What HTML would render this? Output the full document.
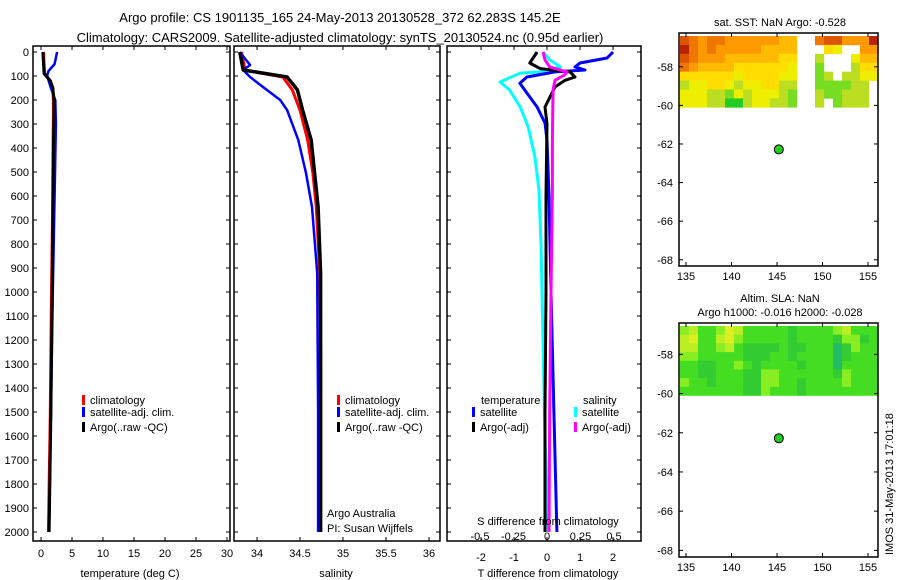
<!DOCTYPE html>
<html><head><meta charset="utf-8"><style>
body{margin:0;background:#fff;}
svg{display:block;font-family:"Liberation Sans",sans-serif;}
</style></head><body>
<svg id="c" width="900" height="580" xmlns="http://www.w3.org/2000/svg">
<text x="340" y="22" font-size="13" text-anchor="middle">Argo profile: CS 1901135_165 24-May-2013 20130528_372 62.283S 145.2E</text>
<text x="340" y="42" font-size="13" text-anchor="middle">Climatology: CARS2009. Satellite-adjusted climatology: synTS_20130524.nc (0.95d earlier)</text>
<g id="g"></g>
<text x="780" y="26" font-size="11" text-anchor="middle">sat. SST: NaN Argo: -0.528</text>
<text x="780" y="302" font-size="11" text-anchor="middle">Altim. SLA: NaN</text>
<text x="780" y="316" font-size="11" text-anchor="middle">Argo h1000: -0.016 h2000: -0.028</text>
<text transform="translate(893,555) rotate(-90)" font-size="11">IMOS 31-May-2013 17:01:18</text>
<text x="327" y="517" font-size="11">Argo Australia</text>
<text x="327" y="532" font-size="11">PI: Susan Wijffels</text>
<text x="130" y="577" font-size="11" text-anchor="middle">temperature (deg C)</text>
<text x="336" y="577" font-size="11" text-anchor="middle">salinity</text>
<text x="548" y="525" font-size="11" text-anchor="middle">S difference from climatology</text>
<text x="548" y="577" font-size="11" text-anchor="middle">T difference from climatology</text>
</svg>
<script>
// depth axis
const depthTicks=[0,100,200,300,400,500,600,700,800,900,1000,1100,1200,1300,1400,1500,1600,1700,1800,1900,2000];
// temperature panel
const tTicks=[0,5,10,15,20,25,30];
const tArgoDepth=[0,50,90,100,120,150,200,250,400,700,1000,1500,2000];
const tArgo=[0.3,0.4,0.5,0.8,1.5,1.9,2.1,2.1,2.0,1.9,1.8,1.6,1.3];
const tClim=[0.4,0.5,0.6,0.9,1.5,1.9,2.0,2.0,1.95,1.85,1.7,1.5,1.2];
const tSatDepth=[0,50,80,100,150,200,300,600,1000,1500,2000];
const tSat=[2.6,2.2,1.2,1.0,1.6,2.3,2.4,2.2,1.9,1.6,1.3];
// salinity panel
const sTicks=[34,34.5,35,35.5,36];
const sArgoDepth=[0,75,88,104,158,242,367,504,646,921,1200,1600,2000];
const sArgo=[33.8,33.84,34.07,34.35,34.47,34.53,34.63,34.67,34.71,34.74,34.74,34.74,34.74];
const sClim=[33.82,33.86,34.05,34.3,34.41,34.5,34.59,34.65,34.69,34.73,34.74,34.74,34.74];
const sSatDepth=[0,54,75,104,146,200,242,367,504,646,783,921,1500,2000];
const sSat=[33.8,33.92,33.84,33.92,34.07,34.27,34.35,34.48,34.57,34.64,34.67,34.70,34.71,34.71];
// difference panel
const dtTicks=[-2,-1,0,1,2];
const dsTicks=[-0.5,-0.25,0,0.25,0.5];
const dtSatDepth=[0,25,46,62,75,83,104,130,171,229,296,367,600,1000,1500,2000];
const dtSat=[2.0,1.82,1.0,0.85,1.15,0.24,-0.61,-0.82,-0.61,-0.30,-0.06,0,0.06,0.12,0.21,0.30];
const dtArgoDepth=[0,46,69,83,104,118,146,187,229,300,600,1000,1500,2000];
const dtArgo=[-0.30,-0.52,-0.21,0.70,0.85,0.55,0.24,0.09,-0.06,0,-0.03,-0.03,-0.06,-0.06];
const dsSatDepth=[0,33,62,83,88,125,158,229,312,437,575,800,1200,1600,2000];
const dsSat=[-0.03,0.02,0.10,-0.05,-0.20,-0.35,-0.28,-0.20,-0.14,-0.09,-0.06,-0.045,-0.03,-0.015,0.01];
const dsArgoDepth=[0,33,62,83,96,118,158,367,575,1000,1500,2000];
const dsArgo=[-0.03,-0.015,0.02,0.15,0.13,0.06,0.045,0.04,0.04,0.03,0.02,0.015];
// maps
const lonTicks=[135,140,145,150,155];
const latTicks=[-58,-60,-62,-64,-66,-68];
const sstRows=["8767766666655..7886669","9767666665555...43..66","8766655555544..2...355","7655554444443..1...244","4444443444433..12.2233","2334432334422..111122.","3332213233321..211222.","3332200233221..2.1222."];
const slaRows=["3422354222221222234222","4522453222221222213312","4422342111121122201322","3322222111221222201222","2211223212222122202222","2211222113322222213222","3221222113322122223222","2222222113222122222222"];
const floatLon=145.2, floatLat=-62.283;

const NS="http://www.w3.org/2000/svg";
const G=document.getElementById('g');
function mk(t,a,p){const e=document.createElementNS(NS,t);for(const k in a)e.setAttribute(k,a[k]);(p||G).appendChild(e);return e;}
const yD=d=>52+d*0.24;
const xT=v=>41+v*6.2;
const xS=v=>257+(v-34)*86;
const xDT=v=>547+v*33;
const xDS=v=>547+v*134;
const TOP=46,BOT=541;
function frame(x0,x1,name){
  const r=mk('rect',{x:x0,y:TOP,width:x1-x0,height:BOT-TOP,fill:'none',stroke:'#000','stroke-width':1.5});
  
  
  depthTicks.forEach(d=>{mk('line',{x1:x0,x2:x0+4,y1:yD(d),y2:yD(d),stroke:'#000'});mk('line',{x1:x1,x2:x1-4,y1:yD(d),y2:yD(d),stroke:'#000'});});
}
frame(33,230,'temperature-panel');
frame(234,440,'salinity-panel');
frame(447,641,'difference-panel');
depthTicks.forEach(d=>{const t=mk('text',{x:29,y:yD(d)+4,'font-size':11,'text-anchor':'end'});t.textContent=d;

});
function xticks(vals,fx,x0,x1,ly,lab){vals.forEach(v=>{const x=fx(v);mk('line',{x1:x,x2:x,y1:TOP,y2:TOP+4,stroke:'#000'});mk('line',{x1:x,x2:x,y1:BOT,y2:BOT-4,stroke:'#000'});
if(lab){const t=mk('text',{x:x,y:ly,'font-size':11,'text-anchor':'middle'});t.textContent=v;

}});}
xticks(tTicks,xT,33,230,557,true);
xticks(sTicks,xS,234,440,557,true);
xticks(dtTicks,xDT,447,641,561,true);
dsTicks.forEach(v=>{const t=mk('text',{x:xDS(v),y:540,'font-size':11,'text-anchor':'middle'});t.textContent=v;

});
function line(ds,vs,fx,col,w,name){const p=mk('polyline',{points:ds.map((d,i)=>fx(vs[i]).toFixed(1)+','+yD(d).toFixed(1)).join(' '),fill:'none',stroke:col,'stroke-width':w,'stroke-linejoin':'round'});

}
line(tArgoDepth,tClim,xT,'#f00',3,'temp-climatology-line');
line(tSatDepth,tSat,xT,'#00f',2.5,'temp-satellite-line');
line(tArgoDepth,tArgo,xT,'#000',3,'temp-argo-line');
line(sArgoDepth,sClim,xS,'#f00',3,'sal-climatology-line');
line(sSatDepth,sSat,xS,'#00f',2.5,'sal-satellite-line');
line(sArgoDepth,sArgo,xS,'#000',3.5,'sal-argo-line');
line(dsSatDepth,dsSat,xDS,'#0ff',3,'ds-satellite-line');
line(dtSatDepth,dtSat,xDT,'#00f',3,'dt-satellite-line');
line(dtArgoDepth,dtArgo,xDT,'#000',3,'dt-argo-line');
line(dsArgoDepth,dsArgo,xDS,'#f0f',3,'ds-argo-line');
function leg(x,y,col,txt,name){mk('rect',{x:x,y:y-9,width:3,height:10,fill:col});const t=mk('text',{x:x+8,y:y,'font-size':11});t.textContent=txt;

}
[[82,'temp'],[337,'sal']].forEach(([x,p])=>{leg(x,404,'#f00','climatology',p+'-legend-climatology');leg(x,416,'#00f','satellite-adj. clim.',p+'-legend-satellite');leg(x,431,'#000','Argo(..raw -QC)',p+'-legend-argo');});
{const t=mk('text',{x:481,y:404,'font-size':11});t.textContent='temperature';
const u=mk('text',{x:583,y:404,'font-size':11});u.textContent='salinity';}
leg(472,416,'#00f','satellite','diff-legend-t-satellite');leg(472,431,'#000','Argo(-adj)','diff-legend-t-argo');
leg(574,416,'#0ff','satellite','diff-legend-s-satellite');leg(574,431,'#f0f','Argo(-adj)','diff-legend-s-argo');

// maps
const sstCol=['#22cc22','#77dd22','#bbdd22','#eeee00','#ffdd00','#ffbb00','#ff9900','#ee7700','#dd5500','#bb2200'];
const slaCol=['#22bb66','#33cc33','#44dd22','#88ee22','#bbee22','#ddee22'];
function map(top,bot,latTop,ppd,rows,cols,name){
  const xL=v=>686+(v-135)*9.1;
  const yL=v=>top+(latTop-v)*ppd;
  const nR=rows.length;const dataTop=top+3,dataBot=yL(-60.1);const rh=(dataBot-dataTop)/nR;
  rows.forEach((r,ri)=>{[...r].forEach((c,ci)=>{if(c==='.')return;const cell=mk('rect',{x:680+ci*9,y:dataTop+ri*rh,width:9.2,height:rh+0.3,fill:cols[+c]});
  
  });});
  const f=mk('rect',{x:679,y:top,width:199,height:bot-top,fill:'none',stroke:'#000','stroke-width':1.5});
  
  
  lonTicks.forEach(v=>{const x=xL(v);mk('line',{x1:x,x2:x,y1:top,y2:top+4,stroke:'#000'});mk('line',{x1:x,x2:x,y1:bot,y2:bot-4,stroke:'#000'});
   const t=mk('text',{x:x,y:bot+14,'font-size':11,'text-anchor':'middle'});t.textContent=v;
   
   });
  latTicks.forEach(v=>{const y=yL(v);mk('line',{x1:679,x2:683,y1:y,y2:y,stroke:'#000'});mk('line',{x1:878,x2:874,y1:y,y2:y,stroke:'#000'});
   const t=mk('text',{x:673,y:y+4,'font-size':11,'text-anchor':'end'});t.textContent=v;
   
   });
  const d=mk('circle',{cx:xL(floatLon),cy:yL(floatLat),r:4.5,fill:'#2c2',stroke:'#000','stroke-width':1});
  
  
}
map(33,266,-56.25,19.3,sstRows,sstCol,'sst-map');
map(323,557,-56.4,19.6,slaRows,slaCol,'sla-map');
</script>
</body></html>
